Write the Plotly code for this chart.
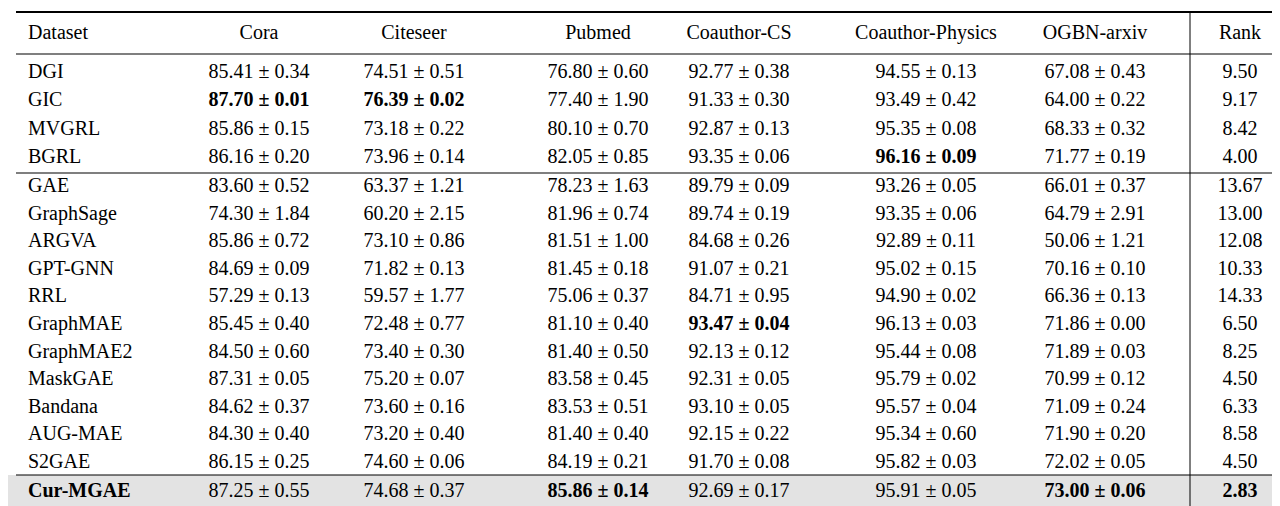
import plotly.graph_objects as go

METHODS = ["DGI", "GIC", "MVGRL", "BGRL", "GAE", "GraphSage", "ARGVA", "GPT-GNN", "RRL",
           "GraphMAE", "GraphMAE2", "MaskGAE", "Bandana", "AUG-MAE", "S2GAE", "Cur-MGAE"]
DATASETS = ["Cora", "Citeseer", "Pubmed", "Coauthor-CS", "Coauthor-Physics", "OGBN-arxiv"]

cora = ["85.41 ± 0.34", "87.70 ± 0.01", "85.86 ± 0.15", "86.16 ± 0.20", "83.60 ± 0.52", "74.30 ± 1.84",
        "85.86 ± 0.72", "84.69 ± 0.09", "57.29 ± 0.13", "85.45 ± 0.40", "84.50 ± 0.60", "87.31 ± 0.05",
        "84.62 ± 0.37", "84.30 ± 0.40", "86.15 ± 0.25", "87.25 ± 0.55"]
citeseer = ["74.51 ± 0.51", "76.39 ± 0.02", "73.18 ± 0.22", "73.96 ± 0.14", "63.37 ± 1.21", "60.20 ± 2.15",
            "73.10 ± 0.86", "71.82 ± 0.13", "59.57 ± 1.77", "72.48 ± 0.77", "73.40 ± 0.30", "75.20 ± 0.07",
            "73.60 ± 0.16", "73.20 ± 0.40", "74.60 ± 0.06", "74.68 ± 0.37"]
pubmed = ["76.80 ± 0.60", "77.40 ± 1.90", "80.10 ± 0.70", "82.05 ± 0.85", "78.23 ± 1.63", "81.96 ± 0.74",
          "81.51 ± 1.00", "81.45 ± 0.18", "75.06 ± 0.37", "81.10 ± 0.40", "81.40 ± 0.50", "83.58 ± 0.45",
          "83.53 ± 0.51", "81.40 ± 0.40", "84.19 ± 0.21", "85.86 ± 0.14"]
coauthor_cs = ["92.77 ± 0.38", "91.33 ± 0.30", "92.87 ± 0.13", "93.35 ± 0.06", "89.79 ± 0.09", "89.74 ± 0.19",
               "84.68 ± 0.26", "91.07 ± 0.21", "84.71 ± 0.95", "93.47 ± 0.04", "92.13 ± 0.12", "92.31 ± 0.05",
               "93.10 ± 0.05", "92.15 ± 0.22", "91.70 ± 0.08", "92.69 ± 0.17"]
coauthor_phys = ["94.55 ± 0.13", "93.49 ± 0.42", "95.35 ± 0.08", "96.16 ± 0.09", "93.26 ± 0.05", "93.35 ± 0.06",
                 "92.89 ± 0.11", "95.02 ± 0.15", "94.90 ± 0.02", "96.13 ± 0.03", "95.44 ± 0.08", "95.79 ± 0.02",
                 "95.57 ± 0.04", "95.34 ± 0.60", "95.82 ± 0.03", "95.91 ± 0.05"]
ogbn_arxiv = ["67.08 ± 0.43", "64.00 ± 0.22", "68.33 ± 0.32", "71.77 ± 0.19", "66.01 ± 0.37", "64.79 ± 2.91",
              "50.06 ± 1.21", "70.16 ± 0.10", "66.36 ± 0.13", "71.86 ± 0.00", "71.89 ± 0.03", "70.99 ± 0.12",
              "71.09 ± 0.24", "71.90 ± 0.20", "72.02 ± 0.05", "73.00 ± 0.06"]
rank = ["9.50", "9.17", "8.42", "4.00", "13.67", "13.00", "12.08", "10.33", "14.33",
        "6.50", "8.25", "4.50", "6.33", "8.58", "4.50", "2.83"]
# index of the bold (best) entry in each column
best = {"Cora": 1, "Citeseer": 1, "Pubmed": 15, "Coauthor-CS": 9,
        "Coauthor-Physics": 3, "OGBN-arxiv": 15, "Rank": 15}

columns = [("Cora", cora, 251), ("Citeseer", citeseer, 406), ("Pubmed", pubmed, 590),
           ("Coauthor-CS", coauthor_cs, 731), ("Coauthor-Physics", coauthor_phys, 918),
           ("OGBN-arxiv", ogbn_arxiv, 1087), ("Rank", rank, 1232)]

FONT = dict(family="Liberation Serif", size=20, color="black")
HEADER_Y = 26
# three blocks: unsupervised contrastive, generative, ours
ROW_Y = [65 + 28.3 * i for i in range(4)] + [179 + 27.6 * i for i in range(11)] + [484]

fig = go.Figure()

# grey band behind the last row
fig.add_shape(type="rect", x0=0, x1=1280, y0=467, y1=501, fillcolor="#e3e3e3", line_width=0, layer="below")

names = [f"<b>{m}</b>" if m == "Cur-MGAE" else m for m in METHODS]
fig.add_trace(go.Scatter(x=[20] * (len(METHODS) + 1), y=[HEADER_Y] + ROW_Y, text=["Dataset"] + names,
                         mode="text", textposition="middle right", textfont=FONT, hoverinfo="skip"))
for title, vals, xc in columns:
    cells = [f"<b>{v}</b>" if i == best[title] else v for i, v in enumerate(vals)]
    fig.add_trace(go.Scatter(x=[xc] * (len(vals) + 1), y=[HEADER_Y] + ROW_Y, text=[title] + cells,
                             mode="text", textposition="middle center", textfont=FONT, hoverinfo="skip"))

for y, w in [(4, 2.2), (46, 1.2), (165, 1.2), (467, 1.2), (502, 2.2)]:
    fig.add_shape(type="line", x0=8, x1=1278, y0=y, y1=y, line=dict(color="black", width=w))
fig.add_shape(type="line", x0=1182, x1=1182, y0=5, y1=501, line=dict(color="black", width=1))

fig.update_xaxes(range=[0, 1280], visible=False)
fig.update_yaxes(range=[506, 0], visible=False)
fig.update_layout(width=1280, height=506, margin=dict(l=0, r=0, t=0, b=0),
                  plot_bgcolor="white", paper_bgcolor="white", showlegend=False)
fig.write_html("out.html")
